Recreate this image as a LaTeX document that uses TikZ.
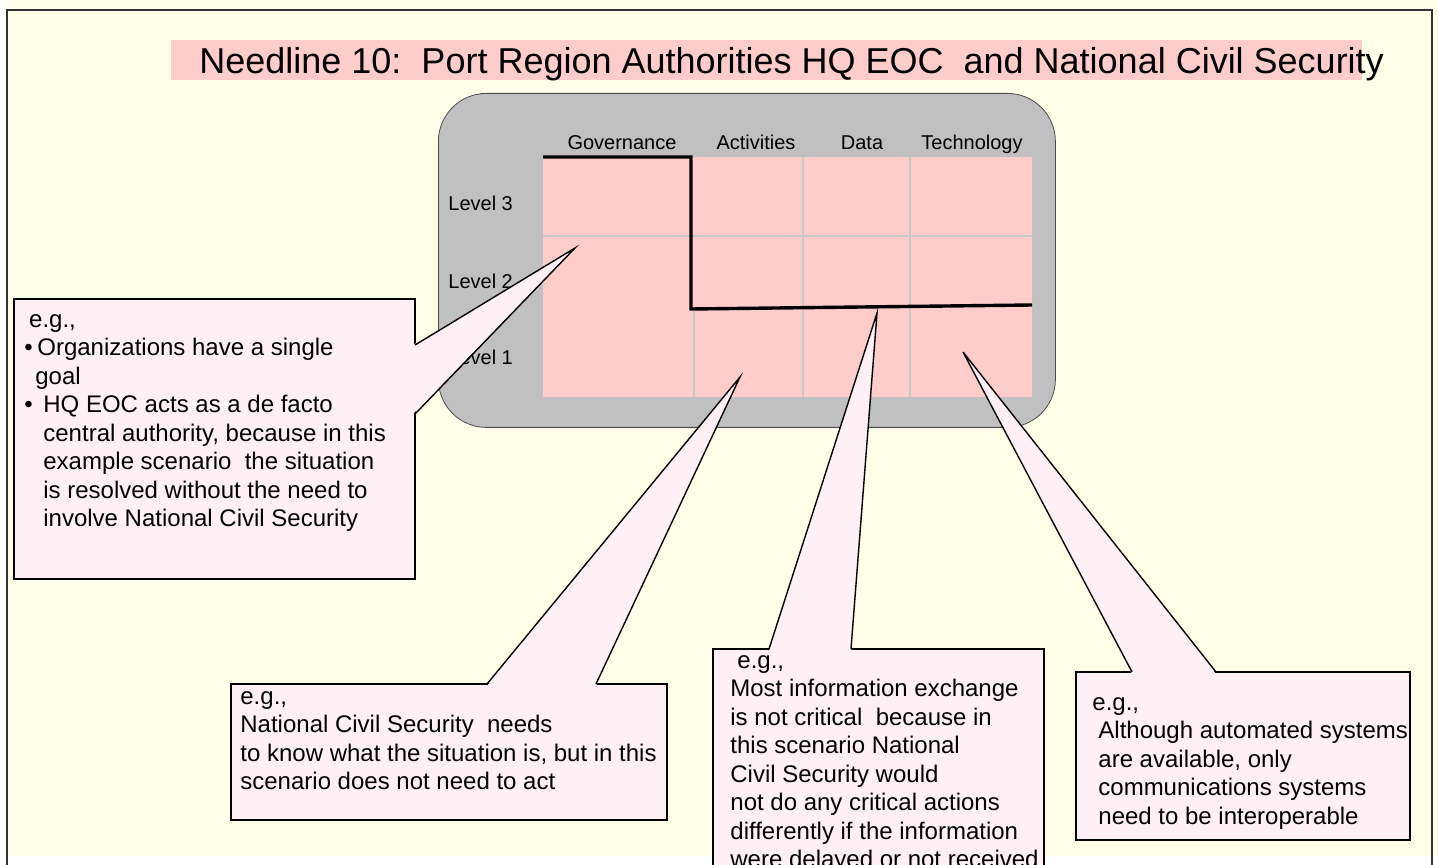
\documentclass[tikz,border=0pt]{standalone}
\usepackage{fontspec}
\setmainfont{Liberation Sans}
\usepackage{tikz}
\usetikzlibrary{calc}
\definecolor{paper}{RGB}{255,255,234}
\definecolor{cellpink}{RGB}{255,204,204}
\definecolor{panelgray}{RGB}{192,192,192}
\definecolor{notepink}{RGB}{255,240,245}
\definecolor{gridline}{RGB}{200,200,200}

\begin{document}
\begin{tikzpicture}[
    x=0.5pt, y=-0.5pt,
    notebox/.style={draw=black, fill=notepink, line width=0.7pt, anchor=north west, inner sep=0pt, outer sep=0pt},
    notetext/.style={anchor=north west, inner sep=0pt, align=left, font=\fontsize{12}{14.25}\selectfont},
    pointer/.style={fill=notepink},
    pointerline/.style={draw=black, line width=0.7pt, line join=miter},
    head/.style={anchor=base, inner sep=0pt, font=\fontsize{10}{12}\selectfont},
    level/.style={anchor=base west, inner sep=0pt, font=\fontsize{10}{12}\selectfont},
    ridge/.style={black, line width=1.7pt}
]
    \useasboundingbox (0,0) rectangle (1438,865);
    \clip (0,0) rectangle (1438,865);
    \fill[paper] (7,0) rectangle (1438,856);
    \draw[line width=1pt, black!80] (7,865) -- (7,10) -- (1432,10) -- (1432,865);

    % title
    \fill[cellpink] (171,40) rectangle (1362,80);
    \node[anchor=base west, inner sep=0pt, font=\fontsize{18}{20}\selectfont] (title) at (199,74)
        {Needline 10:\ \ Port Region Authorities HQ EOC\ \ and National Civil Security};

    % interoperability grid
    \node[draw=black!70, fill=panelgray, rounded corners=24pt, minimum width=308.5pt, minimum height=167pt,
          anchor=north west, inner sep=0pt] (panel) at (438,93) {};
    \fill[cellpink] (543,157) rectangle (1032,397);
    \draw[gridline, line width=0.6pt] (543,236) -- (1032,236);
    \foreach \x in {803,910}
        \draw[gridline, line width=0.6pt] (\x,157) -- (\x,397);
    \draw[gridline, line width=0.6pt] (694,309) -- (694,397);
    \draw[ridge] (543,157) -- (691,157) -- (691,309) -- (1032,305);

    \foreach \name/\x/\txt in {gov/622/Governance, act/756/Activities, dat/862/Data, tec/972/Technology}
        \node[head] (\name) at (\x,150) {\txt};
    \foreach \n/\y in {3/211, 2/289, 1/365}
        \node[level] (lv\n) at (448,\y) {Level \n};

    % callouts
    \node[notebox, minimum width=200.5pt, minimum height=140pt] (noteGov) at (14,299) {};
    \node[notebox, minimum width=218pt, minimum height=68pt] (noteAct) at (231,684) {};
    \node[notebox, minimum width=165.5pt, minimum height=126pt] (noteDat) at (713,649) {};
    \node[notebox, minimum width=167pt, minimum height=84pt] (noteTec) at (1076,672) {};

    \coordinate (tipGov) at (575,248);
    \coordinate (tipAct) at (740,377);
    \coordinate (tipDat) at (877,313);
    \coordinate (tipTec) at (963,352);

    \fill[pointer] ($(noteGov.north east)+(-2,46)$) -- (tipGov) -- ($(noteGov.north east)+(-2,115)$) -- cycle;
    \draw[pointerline] ($(noteGov.north east)+(0,46)$) -- (tipGov) -- ($(noteGov.north east)+(0,115)$);

    \fill[pointer] ($(noteAct.north west)+(256,2)$) -- (tipAct) -- ($(noteAct.north west)+(365,2)$) -- cycle;
    \draw[pointerline] ($(noteAct.north west)+(256,0)$) -- (tipAct) -- ($(noteAct.north west)+(365,0)$);

    \fill[pointer] ($(noteDat.north west)+(56,2)$) -- (tipDat) -- ($(noteDat.north west)+(138,2)$) -- cycle;
    \draw[pointerline] ($(noteDat.north west)+(56,0)$) -- (tipDat) -- ($(noteDat.north west)+(138,0)$);

    \fill[pointer] ($(noteTec.north west)+(56,2)$) -- (tipTec) -- ($(noteTec.north west)+(140,2)$) -- cycle;
    \draw[pointerline] ($(noteTec.north west)+(56,0)$) -- (tipTec) -- ($(noteTec.north west)+(140,0)$);

    \node[notetext] (txtGov) at (24,307)
        {\strut\hspace*{2.4pt}e.g.,\\
         \textbullet\hspace*{2.3pt}Organizations have a single\\
         \hspace*{5.5pt}goal\\
         \textbullet\hspace*{5.3pt}HQ EOC acts as a de facto\\
         \hspace*{9.5pt}central authority, because in this\\
         \hspace*{9.5pt}example scenario\ \ the situation\\
         \hspace*{9.5pt}is resolved without the need to\\
         \hspace*{9.5pt}involve National Civil Security};
    \node[notetext] (txtAct) at (240,684)
        {\strut e.g.,\\
         National Civil Security\ \ needs\\
         to know what the situation is, but in this\\
         scenario does not need to act};
    \node[notetext] (txtDat) at (730,648)
        {\strut\hspace*{3.5pt}e.g.,\\
         Most information exchange\\
         is not critical\ \ because in\\
         this scenario National\\
         Civil Security would\\
         not do any critical actions\\
         differently if the information\\
         were delayed or not received};
    \node[notetext] (txtTec) at (1092,690)
        {\strut e.g.,\\
         \hspace*{3pt}Although automated systems\\
         \hspace*{3pt}are available, only\\
         \hspace*{3pt}communications systems\\
         \hspace*{3pt}need to be interoperable};
\end{tikzpicture}
\end{document}
